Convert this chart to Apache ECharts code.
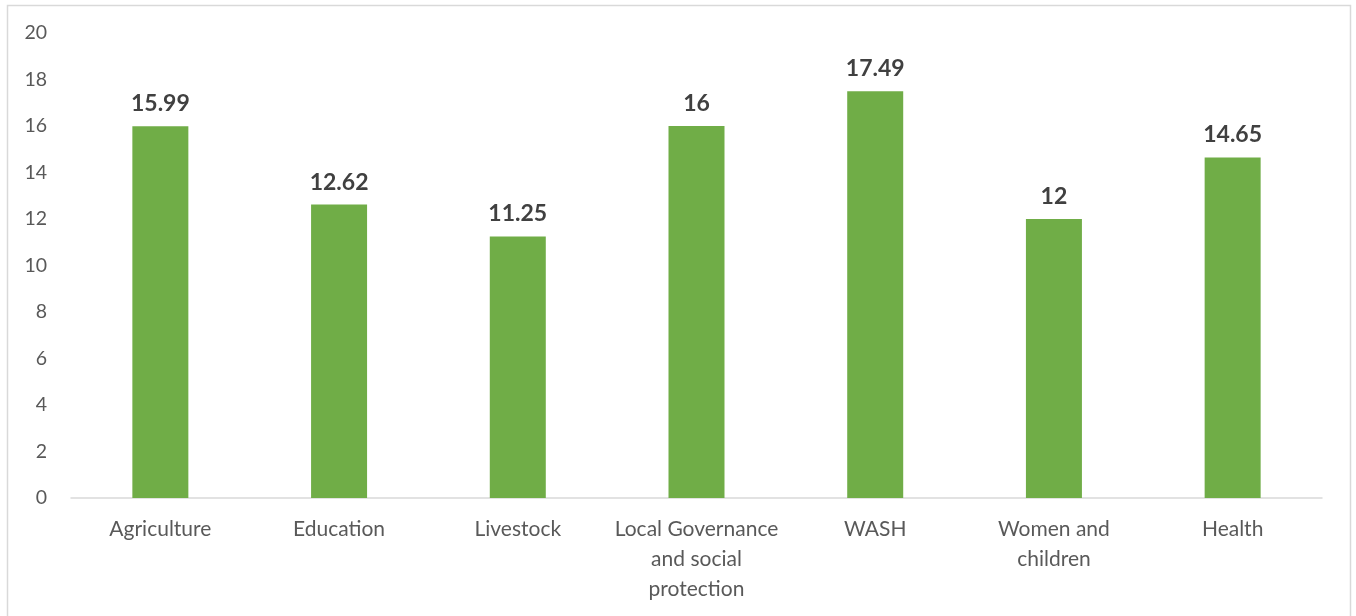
<!DOCTYPE html>
<html><head><meta charset="utf-8">
<script src="https://cdn.jsdelivr.net/npm/echarts@6/dist/echarts.min.js"></script>
<style>html,body{margin:0;padding:0;background:#fff}#c{width:1356px;height:616px}</style>
</head><body><div id="c"></div>
<script>
const categories = ['Agriculture', 'Education', 'Livestock', 'Local Governance\nand social\nprotection', 'WASH', 'Women and\nchildren', 'Health'];
const values = [15.99, 12.62, 11.25, 16, 17.49, 12, 14.65];
const yTicks = {min: 0, max: 20, interval: 2};

const chart = echarts.init(document.getElementById('c'));
chart.setOption({
  animation: false,
  backgroundColor: '#fff',
  graphic: [{type: 'rect', shape: {x: 7.5, y: 5.5, width: 1343, height: 640}, style: {fill: 'none', stroke: '#d9d9d9', lineWidth: 1.5}, silent: true}],
  grid: {left: 71, right: 34, top: 33, bottom: 118},
  xAxis: {
    type: 'category', data: categories,
    axisLine: {lineStyle: {color: '#d9d9d9', width: 1.5}},
    axisTick: {show: false},
    axisLabel: {color: '#595959', fontFamily: 'Lato', fontSize: 21, margin: 16, lineHeight: 30, interval: 0}
  },
  yAxis: {
    type: 'value', min: yTicks.min, max: yTicks.max, interval: yTicks.interval,
    axisLine: {show: false}, axisTick: {show: false}, splitLine: {show: false},
    axisLabel: {color: '#595959', fontFamily: 'Lato', fontSize: 19.5, margin: 24}
  },
  series: [{
    type: 'bar', data: values, barWidth: 56,
    itemStyle: {color: '#70ad47'},
    label: {show: true, position: 'top', distance: 11, color: '#404040', fontFamily: 'Lato', fontWeight: 'bold', fontSize: 23}
  }]
});
</script></body></html>
